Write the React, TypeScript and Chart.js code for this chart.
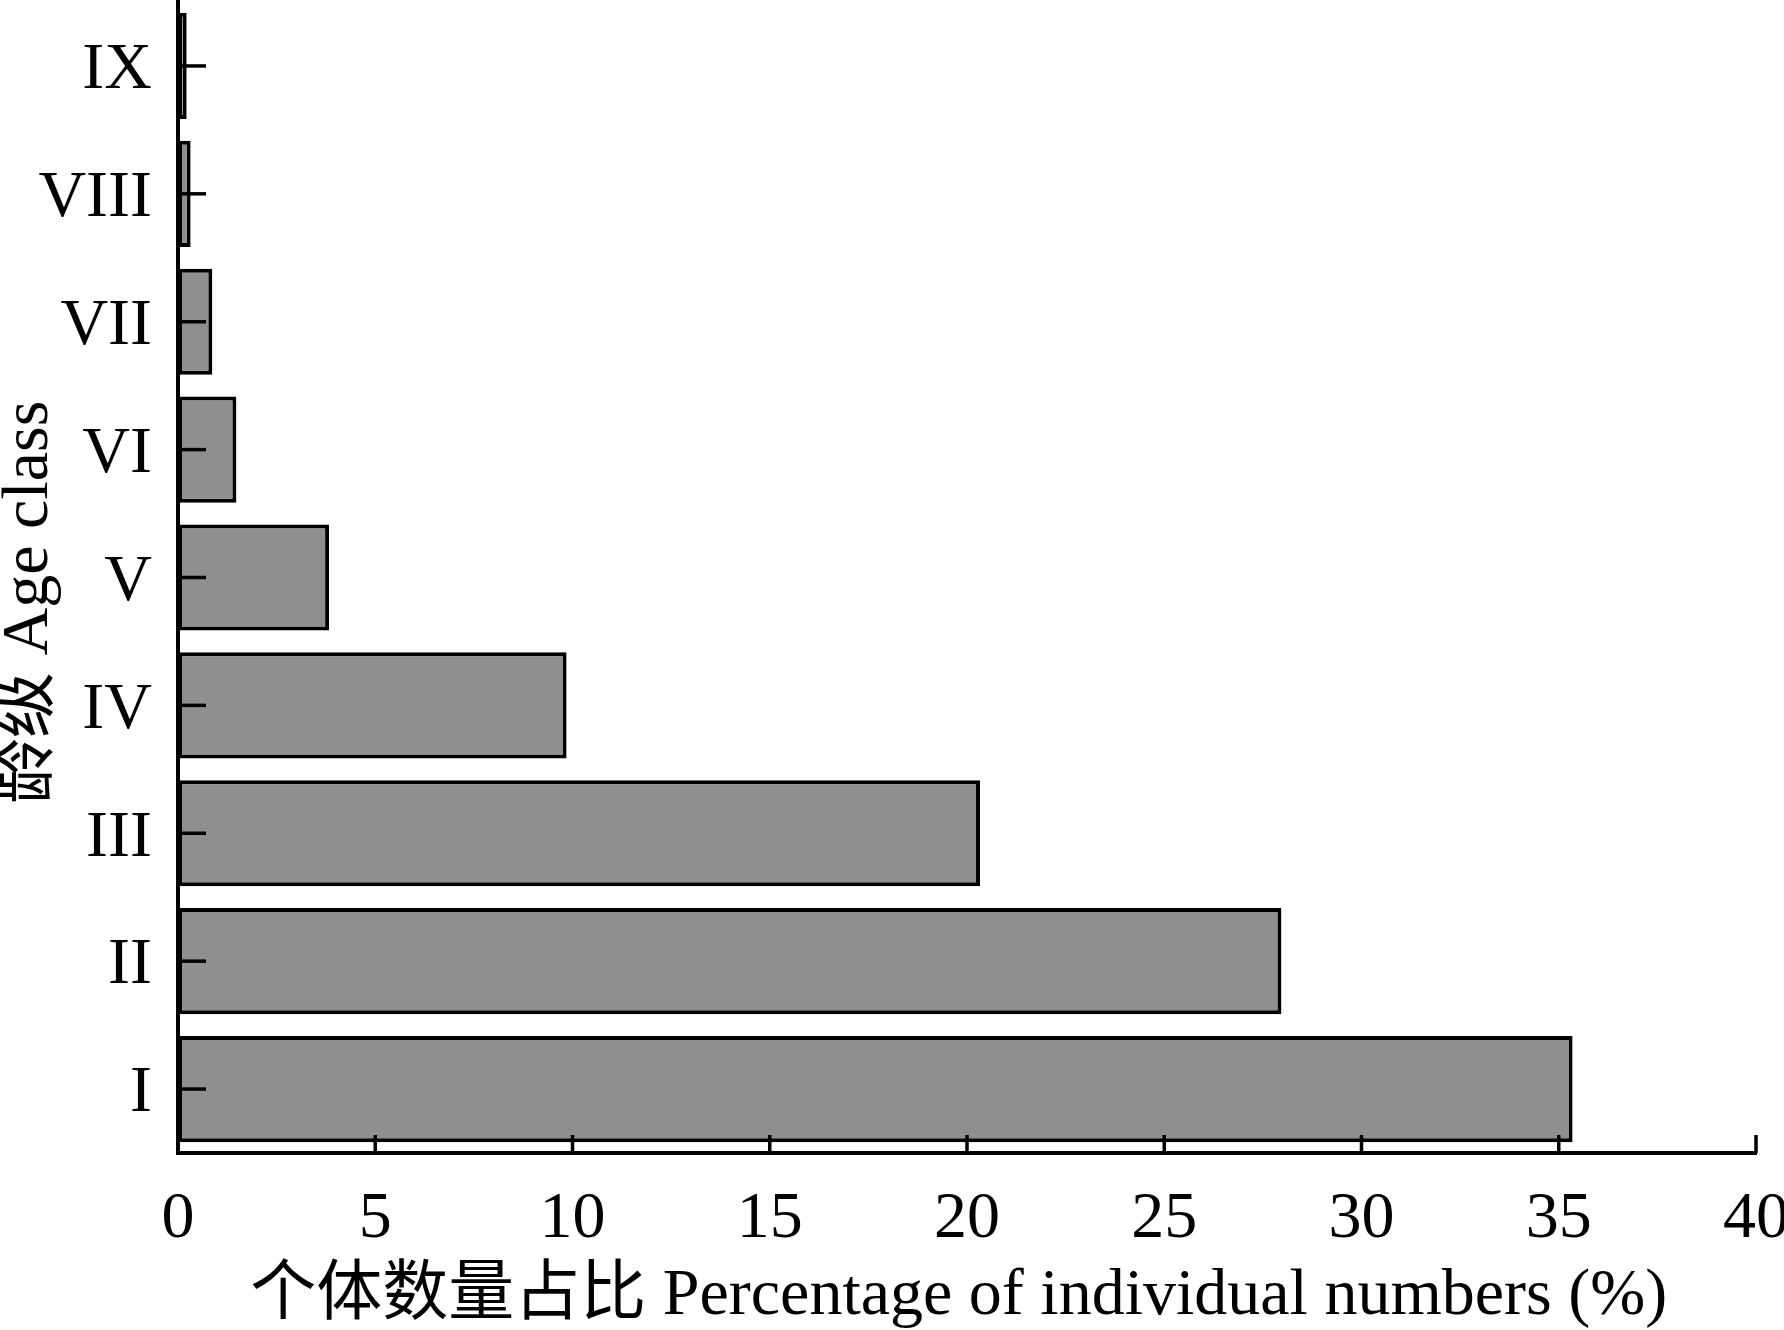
import React, { useEffect, useRef } from "react";
import { Chart, registerables } from "chart.js";

Chart.register(...registerables);

const categories = ["I", "II", "III", "IV", "V", "VI", "VII", "VIII", "IX"];
const percentages = [35.35, 27.97, 20.33, 9.85, 3.83, 1.48, 0.87, 0.32, 0.22];
const xTitle = "个体数量占比 Percentage of individual numbers (%)\u00a0";
const yTitle = "龄级 Age class\u00a0\u00a0\u00a0";

const FONT = '"Liberation Serif", "Noto Sans CJK SC", serif';

const innerTicks = {
  id: "innerTicks",
  afterDatasetsDraw(chart: any) {
    const ctx = chart.ctx;
    const xs = chart.scales.x;
    const ys = chart.scales.y;
    ctx.save();
    ctx.strokeStyle = "#000";
    ctx.lineWidth = 3.5;
    ctx.lineCap = "butt";
    xs.ticks.forEach((_: any, i: number) => {
      const px = xs.getPixelForTick(i);
      ctx.beginPath();
      ctx.moveTo(px, xs.top);
      ctx.lineTo(px, xs.top - 18);
      ctx.stroke();
    });
    ys.ticks.forEach((_: any, i: number) => {
      const py = ys.getPixelForTick(i);
      ctx.beginPath();
      ctx.moveTo(ys.right, py);
      ctx.lineTo(ys.right + 28, py);
      ctx.stroke();
    });
    ctx.restore();
  },
};

export default function App() {
  const ref = useRef<HTMLCanvasElement | null>(null);
  useEffect(() => {
    if (!ref.current) return;
    const chart = new Chart(ref.current, {
      type: "bar",
      data: {
        labels: categories,
        datasets: [
          {
            data: percentages,
            backgroundColor: "#8f8f8f",
            borderColor: "#000",
            borderWidth: 4,
            borderSkipped: false,
            barPercentage: 0.83,
            categoryPercentage: 1,
          },
        ],
      },
      options: {
        indexAxis: "y",
        responsive: false,
        animation: false,
        events: [],
        layout: { padding: { left: 0, top: 2, right: 28, bottom: 0 } },
        plugins: {
          legend: { display: false },
          tooltip: { enabled: false },
        },
        scales: {
          x: {
            type: "linear",
            min: 0,
            max: 40,
            ticks: {
              stepSize: 5,
              padding: 19,
              color: "#000",
              maxRotation: 0,
              autoSkip: false,
              font: { family: FONT, size: 66, lineHeight: 1.2 },
            },
            grid: { display: false },
            border: { display: true, color: "#000", width: 4 },
            title: {
              display: true,
              text: xTitle,
              color: "#000",
              font: { family: FONT, size: 66, lineHeight: 1 },
              padding: { top: 3, bottom: 0 },
            },
            afterFit(scale: any) {
              scale.height = 177;
              scale.paddingLeft = 0;
              scale.paddingRight = 0;
            },
          },
          y: {
            type: "category",
            reverse: true,
            offset: true,
            ticks: {
              padding: 18,
              labelOffset: 5,
              color: "#000",
              autoSkip: false,
              font: { family: FONT, size: 66, lineHeight: 1.2 },
            },
            grid: { display: false },
            border: { display: true, color: "#000", width: 4 },
            title: {
              display: true,
              text: yTitle,
              color: "#000",
              font: { family: FONT, size: 66, lineHeight: 0.9 },
              padding: { top: 0, bottom: 0 },
            },
            afterFit(scale: any) {
              scale.width = 178;
              scale.paddingTop = 0;
              scale.paddingBottom = 0;
            },
          },
        },
      },
      plugins: [innerTicks],
    });
    return () => chart.destroy();
  }, []);
  return (
    <div style={{ position: "absolute", left: 0, top: 0, width: 1784, height: 1330, background: "#fff" }}>
      <canvas ref={ref} width={1784} height={1330} style={{ display: "block" }} />
    </div>
  );
}
